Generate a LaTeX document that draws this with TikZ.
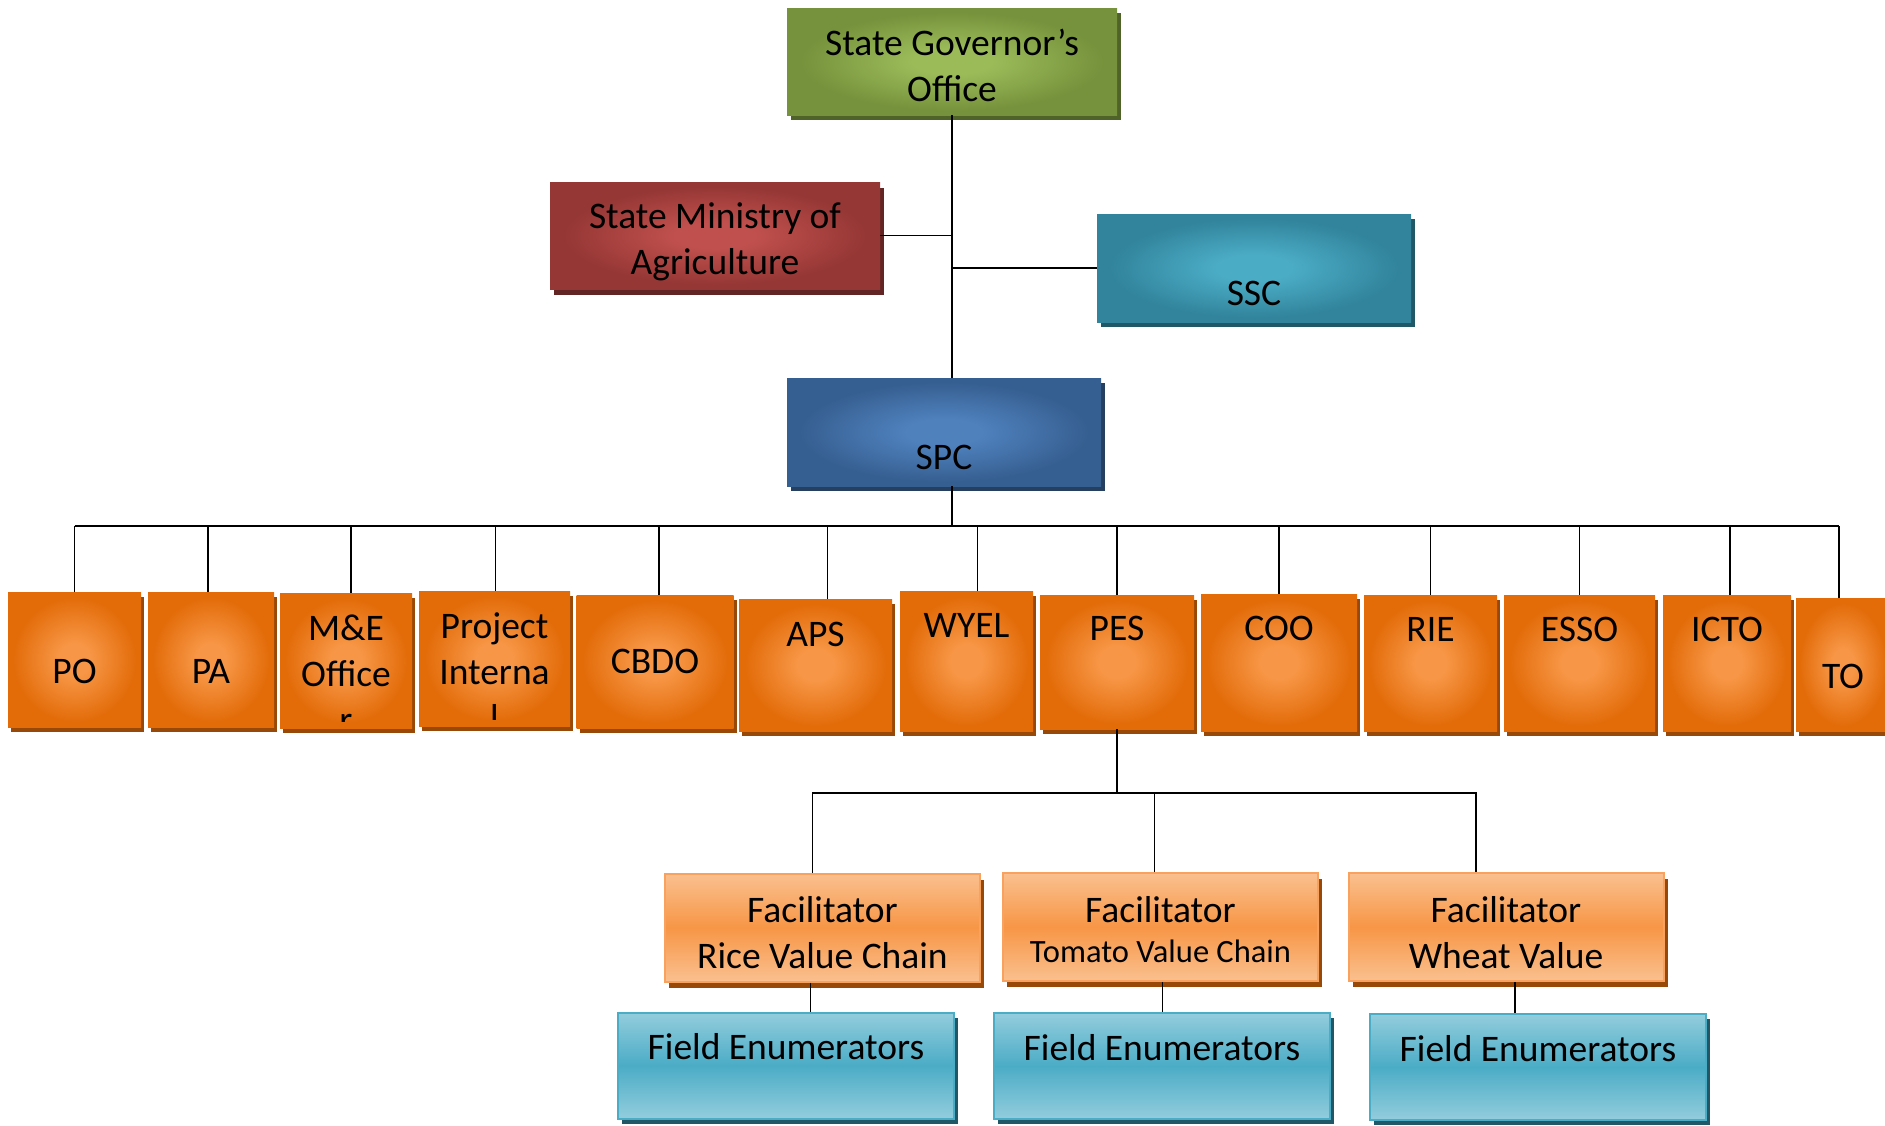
\documentclass[tikz,border=0pt]{standalone}
\usepackage{fontspec}
\setmainfont{Carlito}
\usepackage{tikz}
\usetikzlibrary{shadows}

\definecolor{govlight}{HTML}{9BBB59}
\definecolor{govdark}{HTML}{76923C}
\definecolor{govshadow}{HTML}{4F6228}
\definecolor{minlight}{HTML}{C0504D}
\definecolor{mindark}{HTML}{953735}
\definecolor{minshadow}{HTML}{632523}
\definecolor{ssclight}{HTML}{4BACC6}
\definecolor{sscdark}{HTML}{31849B}
\definecolor{sscshadow}{HTML}{215868}
\definecolor{spclight}{HTML}{4F81BD}
\definecolor{spcdark}{HTML}{365F91}
\definecolor{spcshadow}{HTML}{243F60}
\definecolor{unitlight}{HTML}{F79646}
\definecolor{unitdark}{HTML}{E36C09}
\definecolor{unitshadow}{HTML}{984807}
\definecolor{faclight}{HTML}{FAC08F}
\definecolor{facmid}{HTML}{F79646}
\definecolor{facline}{HTML}{F9A25F}
\definecolor{fieldlight}{HTML}{93CDDD}
\definecolor{fieldmid}{HTML}{4BACC6}

\pgfdeclareradialshading{govglow}{\pgfpoint{0bp}{0bp}}{color(0bp)=(govlight); color(6bp)=(govlight); color(23bp)=(govdark); color(50bp)=(govdark)}
\pgfdeclareradialshading{minglow}{\pgfpoint{0bp}{0bp}}{color(0bp)=(minlight); color(6bp)=(minlight); color(23bp)=(mindark); color(50bp)=(mindark)}
\pgfdeclareradialshading{sscglow}{\pgfpoint{0bp}{0bp}}{color(0bp)=(ssclight); color(6bp)=(ssclight); color(23bp)=(sscdark); color(50bp)=(sscdark)}
\pgfdeclareradialshading{spcglow}{\pgfpoint{0bp}{0bp}}{color(0bp)=(spclight); color(6bp)=(spclight); color(23bp)=(spcdark); color(50bp)=(spcdark)}
\pgfdeclareradialshading{unitglow}{\pgfpoint{0bp}{0bp}}{color(0bp)=(unitlight); color(6bp)=(unitlight); color(23bp)=(unitdark); color(50bp)=(unitdark)}

\tikzstyle{box} = [rectangle, inner sep=0pt, text centered, align=center, font=\fontsize{37.5}{46}\selectfont]
\tikzstyle{govbox} = [box, minimum width=330pt, minimum height=107pt, shade, shading=govglow, general shadow={fill=govshadow, shadow xshift=4pt, shadow yshift=-5pt}]
\tikzstyle{minbox} = [box, minimum width=330pt, minimum height=107pt, shade, shading=minglow, general shadow={fill=minshadow, shadow xshift=4pt, shadow yshift=-6pt}]
\tikzstyle{sscbox} = [box, minimum width=314pt, minimum height=108pt, shade, shading=sscglow, general shadow={fill=sscshadow, shadow xshift=4pt, shadow yshift=-5pt}]
\tikzstyle{spcbox} = [box, minimum width=314pt, minimum height=108pt, shade, shading=spcglow, general shadow={fill=spcshadow, shadow xshift=4pt, shadow yshift=-5pt}]
\tikzstyle{unitbox} = [box, shade, shading=unitglow, general shadow={fill=unitshadow, shadow xshift=3pt, shadow yshift=-5pt}]
\tikzstyle{facil} = [box, minimum width=315pt, minimum height=108pt, draw=facline, line width=2pt, top color=faclight, bottom color=faclight, middle color=facmid, general shadow={fill=unitshadow, shadow xshift=4pt, shadow yshift=-6pt}]
\tikzstyle{fieldbox} = [box, minimum width=336pt, minimum height=106pt, draw=fieldmid, line width=2pt, top color=fieldlight, bottom color=fieldlight, middle color=fieldmid, general shadow={fill=sscshadow, shadow xshift=4pt, shadow yshift=-5pt}, text height=44pt, text depth=56pt]
\tikzstyle{toptext} = [text height=28pt, text depth=72pt]
\tikzstyle{lowtext} = [text height=74pt, text depth=26pt]
\tikzstyle{lowertext} = [text height=87pt, text depth=13pt]
\tikzstyle{branch} = [line width=1.6pt, black]

\begin{document}
\begin{tikzpicture}[x=1pt, y=-1pt]
\useasboundingbox (0,0) rectangle (1885,1125);

% top of the chart
\node (gov) [govbox] at (952,61.5) {\rule{0pt}{35pt}State Governor’s\\Office};
\node (min) [minbox] at (715,235.5) {\rule{0pt}{39pt}State Ministry of\\Agriculture};
\node (ssc) [sscbox, lowertext] at (1254,268) {SSC};
\node (spc) [spcbox, lowertext] at (944,432) {SPC};

% units under SPC
\node (po) [unitbox, minimum width=133pt, minimum height=135pt, lowtext] at (74.5,659.5) {PO};
\node (pa) [unitbox, minimum width=126pt, minimum height=135pt, lowtext] at (211,659.5) {PA};
\node (me) [unitbox, minimum width=132pt, minimum height=135pt, path picture={
  \clip ([yshift=7pt]path picture bounding box.south west) rectangle (path picture bounding box.north east);
  \node [box] at ([yshift=-13pt]path picture bounding box.center) {M\&E\\Office\\r};}] at (346,660.5) {};
\node (pie) [unitbox, minimum width=151pt, minimum height=135pt, path picture={
  \clip ([yshift=7pt]path picture bounding box.south west) rectangle (path picture bounding box.north east);
  \node [box] at ([yshift=-13pt]path picture bounding box.center) {Project\\Interna\\l};}] at (494.5,658.5) {};
\node (cbdo) [unitbox, minimum width=157pt, minimum height=133pt] at (655,661.5) {CBDO};
\node (aps) [unitbox, minimum width=153pt, minimum height=132pt, text height=31pt, text depth=69pt] at (815.5,665) {APS};
\node (wyel) [unitbox, minimum width=133pt, minimum height=140pt, text height=26pt, text depth=74pt] at (966.5,661) {WYEL};
\node (pes) [unitbox, minimum width=154pt, minimum height=134pt, toptext] at (1117,662) {PES};
\node (coo) [unitbox, minimum width=156pt, minimum height=137pt, toptext] at (1279,662.5) {COO};
\node (rie) [unitbox, minimum width=133pt, minimum height=136pt, toptext] at (1430.5,663) {RIE};
\node (esso) [unitbox, minimum width=151pt, minimum height=136pt, toptext] at (1579.5,663) {ESSO};
\node (icto) [unitbox, minimum width=128pt, minimum height=136pt, toptext] at (1727,663) {ICTO};
\node (to) [unitbox, minimum width=94pt, minimum height=133pt, lowtext] at (1843,664.5) {TO};

% facilitators and enumerators under PES
\node (fr) [facil] at (822.5,927.5) {\rule{0pt}{37pt}Facilitator\\Rice Value Chain};
\node (ft) [facil] at (1160.5,927) {\rule{0pt}{31pt}Facilitator\\[-6pt]{\fontsize{32.5}{46}\selectfont Tomato Value Chain}};
\node (fw) [facil] at (1506,927) {\rule{0pt}{37pt}Facilitator\\Wheat Value};
\node (fe1) [fieldbox] at (786,1065.5) {Field Enumerators};
\node (fe2) [fieldbox] at (1162,1066) {Field Enumerators};
\node (fe3) [fieldbox] at (1538,1067) {Field Enumerators};

\coordinate (bus) at (952,526);
\coordinate (sbus) at (1117,793);

\draw [branch] (gov.south) -- (gov.south |- spc.north);
\draw [branch] (min.east) -- (min.east -| gov.south);
\draw [branch] (ssc.west) -- (ssc.west -| gov.south);
\draw [branch] (spc.south -| bus) -- (bus);
\draw [branch] (po.north |- bus) -- ([xshift=-4pt]to.north |- bus);
\draw [branch] (po.north) -- (po.north |- bus);
\draw [branch] ([xshift=-3pt]pa.north) -- ([xshift=-3pt]pa.north |- bus);
\draw [branch] ([xshift=5pt]me.north) -- ([xshift=5pt]me.north |- bus);
\draw [branch] ([xshift=1pt]pie.north) -- ([xshift=1pt]pie.north |- bus);
\draw [branch] ([xshift=4pt]cbdo.north) -- ([xshift=4pt]cbdo.north |- bus);
\draw [branch] ([xshift=12pt]aps.north) -- ([xshift=12pt]aps.north |- bus);
\draw [branch] ([xshift=11pt]wyel.north) -- ([xshift=11pt]wyel.north |- bus);
\draw [branch] (pes.north) -- (pes.north |- bus);
\draw [branch] (coo.north) -- (coo.north |- bus);
\draw [branch] (rie.north) -- (rie.north |- bus);
\draw [branch] (esso.north) -- (esso.north |- bus);
\draw [branch] ([xshift=3pt]icto.north) -- ([xshift=3pt]icto.north |- bus);
\draw [branch] ([xshift=-4pt]to.north) -- ([xshift=-4pt]to.north |- bus);

\draw [branch] (pes.south) -- (sbus);
\draw [branch] ([xshift=-10pt]fr.north) -- ([xshift=-10pt]fr.north |- sbus) -- ([xshift=-30pt]fw.north |- sbus) -- ([xshift=-30pt]fw.north);
\draw [branch] ([xshift=-6pt]ft.north) -- ([xshift=-6pt]ft.north |- sbus);
\draw [branch] ([xshift=-12pt]fr.south) -- ([xshift=-12pt]fr.south |- fe1.north);
\draw [branch] ([xshift=2pt]ft.south) -- ([xshift=2pt]ft.south |- fe2.north);
\draw [branch] ([xshift=9pt]fw.south) -- ([xshift=9pt]fw.south |- fe3.north);
\end{tikzpicture}
\end{document}
